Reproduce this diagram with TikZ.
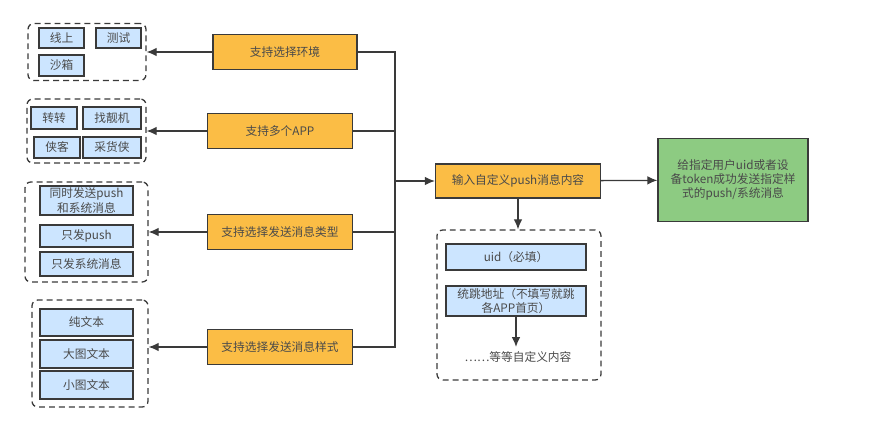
\documentclass[tikz,border=0pt]{standalone}
\usepackage{fontspec}
\setmainfont{Noto Sans CJK SC}
\usetikzlibrary{arrows.meta}
\definecolor{boxorange}{HTML}{FBBD45}
\definecolor{boxblue}{HTML}{CCE5FF}
\definecolor{boxgreen}{HTML}{8DCB82}
\definecolor{edge}{HTML}{3A3A3A}
\definecolor{ink}{HTML}{4A4A4A}

\begin{document}
\begin{tikzpicture}[x=0.03cm, y=-0.03cm, >={Latex[length=3mm,width=2.6mm]},
    line width=1.1pt, draw=edge, text=ink,
    font=\fontsize{10}{12}\selectfont,
    opt/.style = {draw=edge, fill=boxorange, minimum width=4.35cm, minimum height=1.05cm},
    item/.style = {draw=edge, fill=boxblue, inner sep=0pt, align=center},
    group/.style = {draw=edge, dash pattern=on 5pt off 3.5pt, rounded corners=5pt},
    result/.style = {draw=edge, fill=boxgreen, align=center, minimum width=4.5cm, minimum height=2.5cm}]
    \useasboundingbox (0,0) rectangle (870,424);

    % orange options
    \node[opt, minimum width=4.32cm] (env) at (285,52) {支持选择环境};
    \node[opt] (app) at (280,131) {支持多个APP};
    \node[opt] (type) at (280,232) {支持选择发送消息类型};
    \node[opt] (style) at (280,347) {支持选择发送消息样式};
    \node[opt, minimum width=4.95cm, minimum height=1.02cm] (input) at (518,181) {输入自定义push消息内容};
    \node[result] (send) at (733,180) {给指定用户uid或者设\\备token成功发送指定样\\式的push/系统消息};

    % dashed groups
    \node[group, minimum width=3.54cm, minimum height=1.71cm] (envs) at (87,52) {};
    \node[group, minimum width=3.57cm, minimum height=1.92cm] (apps) at (86.5,131) {};
    \node[group, minimum width=3.69cm, minimum height=3cm] (types) at (86.5,232) {};
    \node[group, minimum width=3.48cm, minimum height=3.21cm] (styles) at (90,353.5) {};
    \node[group, minimum width=4.92cm, minimum height=4.5cm] (fields) at (519,305) {};

    % blue items
    \node[item, minimum width=1.35cm, minimum height=0.6cm] (online) at (61.5,38) {线上};
    \node[item, minimum width=1.35cm, minimum height=0.6cm] (test) at (118.5,38) {测试};
    \node[item, minimum width=1.35cm, minimum height=0.63cm] (sandbox) at (61.5,65.5) {沙箱};
    \node[item, minimum width=1.38cm, minimum height=0.66cm] (zz) at (54,118) {转转};
    \node[item, minimum width=1.74cm, minimum height=0.66cm] (zlj) at (112,118) {找靓机};
    \node[item, minimum width=1.38cm, minimum height=0.63cm] (xk) at (57,147.5) {侠客};
    \node[item, minimum width=1.74cm, minimum height=0.63cm] (chx) at (112,147.5) {采货侠};
    \node[item, minimum width=2.79cm, minimum height=0.87cm] (both) at (86.5,200.5) {同时发送push\\和系统消息};
    \node[item, minimum width=2.79cm, minimum height=0.66cm] (pushonly) at (86.5,236) {只发push};
    \node[item, minimum width=2.79cm, minimum height=0.72cm] (sysonly) at (86.5,264) {只发系统消息};
    \node[item, minimum width=2.79cm, minimum height=0.81cm] (plain) at (86.5,322.5) {纯文本};
    \node[item, minimum width=2.79cm, minimum height=0.84cm] (bigimg) at (86.5,354) {大图文本};
    \node[item, minimum width=2.79cm, minimum height=0.84cm] (smallimg) at (86.5,385) {小图文本};
    \node[item, minimum width=4.2cm, minimum height=0.78cm] (uid) at (516,257) {uid（必填）};
    \node[item, minimum width=4.2cm, minimum height=0.9cm] (jump) at (516,301) {统跳地址（不填写就跳\\各APP首页）};
    \node (more) at (518,357) {……等等自定义内容};

    % bus
    \coordinate (top) at (395,52);
    \coordinate (bottom) at (395,347);
    \coordinate (mid) at (395,181);
    \draw (env) -- (top) -- (bottom) -- (style);
    \draw (app) -- (app -| top);
    \draw (type) -- (type -| top);

    \draw[->] (env) -- (envs);
    \draw[->] (app) -- (apps);
    \draw[->] (type) -- (types);
    \draw[->] (style) -- (styles.east |- style);
    \draw[->] (mid) -- (input);
    \draw[->] (input) -- (send);
    \draw[->] (input.south) -- (input.south |- fields.north);
    \draw[->] (jump.south) -- (jump.south |- more.north);
\end{tikzpicture}
\end{document}
